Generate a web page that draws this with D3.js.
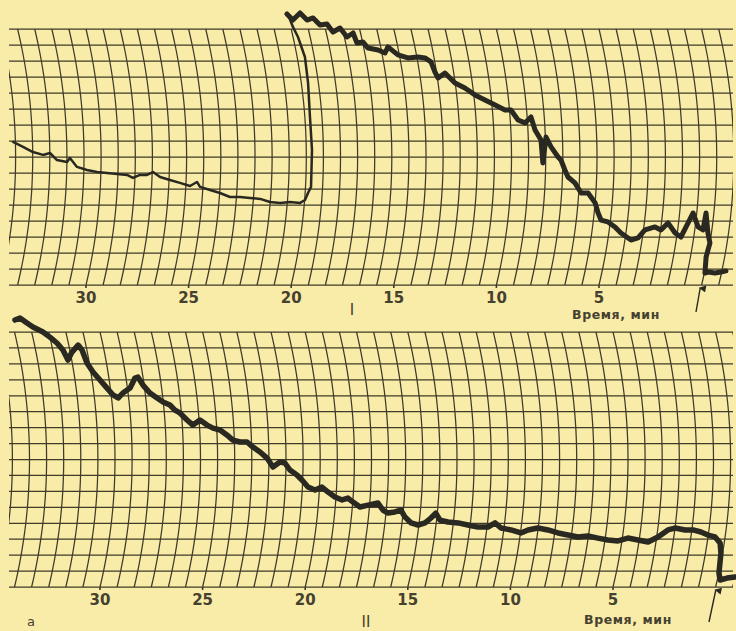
<!DOCTYPE html>
<html>
<head>
<meta charset="utf-8">
<script src="https://cdn.jsdelivr.net/npm/d3@7"></script>
<style>
  body { margin: 0; background: #f9eba8; }
  svg { display: block; }
  .grid line, .grid path { stroke: #3f3a29; stroke-width: 1.25; fill: none; }
  .trace { fill: none; stroke: #2a2921; stroke-linejoin: round; stroke-linecap: round; }
  text { font-family: 'DejaVu Sans', sans-serif; fill: #45412f; }
</style>
</head>
<body>
<svg width="736" height="631"></svg>
<script>
/* globals d3: true */

(function() {
  'use strict';

  // minutes before the arrow, as printed under both strips
  const timeTicks = [30, 25, 20, 15, 10, 5];
  const axisTitle = 'Время, мин';
  const panelNames = ['I', 'II'];

  // strip I, [minutes, chart divisions], slow drift before the jump
  const traceIBase = [
    [34.28, 8.94], [33.80, 8.63], [33.32, 8.31], [32.83, 8.13], [32.49, 8.25],
    [32.15, 7.81], [31.66, 7.69], [31.52, 7.94], [31.17, 7.38], [30.68, 7.19],
    [30.19, 7.06], [29.70, 7.00], [29.21, 6.94], [28.72, 6.88], [28.43, 6.69],
    [28.09, 6.88], [27.75, 6.88], [27.46, 7.06], [27.11, 6.75], [26.62, 6.56],
    [26.13, 6.38], [25.63, 6.19], [25.30, 6.44], [25.14, 6.13], [24.64, 5.94],
    [24.15, 5.75], [23.65, 5.50], [23.16, 5.50], [22.67, 5.44], [22.17, 5.38],
    [21.68, 5.19], [21.18, 5.13], [20.70, 5.19], [20.21, 5.13], [19.98, 5.31],
    [19.86, 5.75], [19.73, 6.13], [19.72, 8.44], [19.75, 10.50], [19.67, 12.63],
    [19.62, 14.25], [19.76, 15.50], [19.89, 16.13], [19.96, 16.75], [20.02, 16.94],
  ];

  // strip I after the jump
  const traceIRun = [
    [20.02, 16.94], [19.81, 16.56], [19.37, 17.00], [19.12, 16.56], [18.80, 16.69],
    [18.55, 16.25], [18.20, 16.31], [18.00, 15.81], [17.61, 16.06], [17.37, 15.50],
    [17.03, 15.75], [16.95, 15.13], [16.65, 15.19], [16.46, 14.81], [15.99, 14.69],
    [15.68, 14.50], [15.48, 14.88], [15.07, 14.38], [14.61, 14.19], [14.11, 14.25],
    [13.78, 14.19], [13.52, 13.94], [13.41, 13.31], [13.30, 12.94], [12.93, 13.25],
    [12.51, 12.63], [12.06, 12.31], [11.61, 11.88], [11.15, 11.56], [10.68, 11.25],
    [10.22, 10.94], [9.93, 10.94], [9.62, 10.31], [9.29, 10.13], [8.98, 10.50],
    [8.82, 9.69], [8.55, 9.06], [8.47, 7.63], [8.30, 9.25], [8.07, 8.63],
    [7.73, 8.00], [7.59, 7.81], [7.39, 7.19], [7.23, 6.75], [6.88, 6.38],
    [6.55, 5.75], [6.21, 5.75], [5.83, 5.13], [5.64, 4.50], [5.46, 4.06],
    [5.11, 3.94], [4.74, 3.63], [4.41, 3.25], [3.87, 2.81], [3.54, 2.94],
    [3.26, 3.44], [2.79, 3.63], [2.48, 3.44], [2.18, 3.88], [1.77, 3.25],
    [1.46, 3.00], [1.20, 3.88], [1.01, 4.50], [0.69, 3.63], [0.43, 3.44],
    [0.38, 4.50], [0.17, 3.25], [0.00, 2.63], [0.07, 1.75], [-0.03, 0.75],
    [-0.17, 0.81], [-0.52, 0.75], [-0.80, 0.81], [-1.03, 0.88],
  ];

  // strip II
  const traceII = [
    [34.00, 16.75], [33.73, 16.88], [33.45, 16.56], [33.21, 16.31], [32.78, 16.00],
    [32.50, 15.68], [32.22, 15.31], [32.00, 14.87], [31.85, 14.24], [31.58, 14.74],
    [31.21, 15.18], [31.07, 14.87], [30.95, 14.05], [30.73, 13.49], [30.45, 12.99],
    [30.16, 12.48], [29.91, 12.05], [29.68, 11.86], [29.42, 12.17], [29.04, 12.48],
    [28.73, 13.11], [28.58, 13.17], [28.39, 12.67], [28.10, 12.17], [27.78, 11.86],
    [27.51, 11.61], [27.19, 11.42], [26.97, 11.10], [26.74, 10.92], [26.42, 10.48],
    [26.15, 10.16], [25.79, 10.48], [25.46, 10.16], [25.18, 9.97], [24.84, 9.85],
    [24.52, 9.54], [24.24, 9.22], [23.89, 9.10], [23.55, 9.10], [23.27, 8.78],
    [22.93, 8.47], [22.59, 8.09], [22.30, 7.53], [21.96, 7.84], [21.72, 7.78],
    [21.47, 7.34], [21.12, 7.03], [20.87, 6.71], [20.56, 6.27], [20.21, 6.09],
    [19.88, 6.27], [19.57, 5.96], [19.22, 5.65], [18.86, 5.46], [18.58, 5.58],
    [18.32, 5.33], [17.96, 5.02], [17.58, 5.14], [17.10, 5.27], [16.83, 4.83],
    [16.57, 4.64], [16.24, 4.71], [15.95, 4.83], [15.72, 4.39], [15.39, 4.02],
    [15.04, 3.89], [14.71, 4.02], [14.45, 4.33], [14.24, 4.64], [14.00, 4.20],
    [13.60, 4.08], [13.10, 4.02], [12.61, 3.89], [12.11, 3.76], [11.62, 3.76],
    [11.30, 4.02], [10.98, 3.70], [10.48, 3.58], [9.98, 3.39], [9.65, 3.58],
    [9.18, 3.70], [8.68, 3.58], [8.17, 3.39], [7.67, 3.26], [7.17, 3.14],
    [6.69, 3.20], [6.19, 3.07], [5.69, 2.95], [5.19, 2.89], [4.73, 3.07],
    [4.23, 2.95], [3.72, 2.82], [3.27, 3.14], [2.83, 3.58], [2.50, 3.70],
    [2.00, 3.58], [1.61, 3.58], [1.21, 3.45], [0.85, 3.26], [0.49, 3.14],
    [0.20, 2.76], [0.08, 2.13], [0.04, 1.51], [-0.01, 0.88], [-0.14, 0.44],
    [-0.46, 0.56], [-0.83, 0.63],
  ];

  const divisions = 16;
  const minPerLine = 5 / 6;
  const pxPerMin = 20.52;
  const radius = 550;
  const left = 9;
  const right = 733;

  const panels = [
    {
      top: 29, bottom: 285, zero: 701.6,
      series: [[traceIBase, 2.5], [traceIRun, 5]],
      nameX: 352, nameY: 315, titleX: 572, titleY: 318.5,
      arrow: [-5.6, 27, -1.4, 3],
    },
    {
      top: 332, bottom: 587, zero: 715.6,
      series: [[traceII, 5.5]],
      nameX: 366, nameY: 627, titleX: 584, titleY: 624,
      arrow: [-6.6, 35, 0.2, 3],
    },
  ];

  const svg = d3.select('svg');

  svg.append('defs')
      .append('marker')
      .attr('id', 'head')
      .attr('viewBox', '0 0 10 10')
      .attr('refX', 5)
      .attr('refY', 2)
      .attr('markerWidth', 5)
      .attr('markerHeight', 6)
      .attr('orient', 'auto-start-reverse')
      .append('path')
      .attr('d', 'M0,10L5,0L10,10Z')
      .attr('fill', '#2a2921');

  panels.forEach((p, i) => {
    const x = d3.scaleLinear()
        .domain([0, 30])
        .range([p.zero, p.zero - 30 * pxPerMin]);
    const y = d3.scaleLinear()
        .domain([0, divisions])
        .range([p.bottom, p.top]);

    // the pen swings on an arm, so a constant time is an arc
    const mid = (p.top + p.bottom) / 2;
    const half = (p.bottom - p.top) / 2;
    const base = Math.sqrt(radius * radius - half * half);
    const bend = (py) => {
      return Math.sqrt(radius * radius - (py - mid) * (py - mid)) - base;
    };

    const line = d3.line()
        .x((d) => {
          return x(d[0]) + bend(y(d[1]));
        })
        .y((d) => {
          return y(d[1]);
        });

    const g = svg.append('g');

    g.append('clipPath')
        .attr('id', 'clip' + i)
        .append('rect')
        .attr('x', left)
        .attr('y', p.top - 1)
        .attr('width', right - left)
        .attr('height', p.bottom - p.top + 2);

    const grid = g.append('g')
        .attr('class', 'grid')
        .attr('clip-path', 'url(#clip' + i + ')');

    grid.selectAll('line')
        .data(d3.range(0, divisions + 1))
        .join('line')
        .attr('x1', left)
        .attr('x2', right)
        .attr('y1', y)
        .attr('y2', y);

    const steps = d3.range(0, divisions + 0.01, 0.25);
    const arcTimes = d3.range(-4, 46).map((k) => k * minPerLine);
    grid.selectAll('path')
        .data(arcTimes)
        .join('path')
        .attr('d', (t) => line(steps.map((v) => [t, v])));

    // time axis
    g.selectAll('.tick')
        .data(timeTicks)
        .join('line')
        .attr('class', 'tick')
        .attr('x1', x)
        .attr('x2', x)
        .attr('y1', p.bottom)
        .attr('y2', p.bottom + 3)
        .attr('stroke', '#3f3a29')
        .attr('stroke-width', 1.6);

    g.selectAll('.tlabel')
        .data(timeTicks)
        .join('text')
        .attr('class', 'tlabel')
        .attr('x', x)
        .attr('y', p.bottom + 17.5)
        .attr('text-anchor', 'middle')
        .attr('font-size', 15)
        .attr('font-weight', 'bold')
        .text((d) => d);

    g.append('text')
        .attr('x', p.titleX)
        .attr('y', p.titleY)
        .attr('font-size', 12.5)
        .attr('font-weight', 'bold')
        .attr('letter-spacing', 0.6)
        .text(axisTitle);

    g.append('text')
        .attr('x', p.nameX)
        .attr('y', p.nameY)
        .attr('text-anchor', 'middle')
        .attr('font-size', 15)
        .attr('font-family', 'Liberation Sans, sans-serif')
        .text(panelNames[i]);

    g.append('line')
        .attr('x1', x(0) + p.arrow[0])
        .attr('y1', p.bottom + p.arrow[1])
        .attr('x2', x(0) + p.arrow[2])
        .attr('y2', p.bottom + p.arrow[3])
        .attr('stroke', '#2a2921')
        .attr('stroke-width', 1.4)
        .attr('marker-end', 'url(#head)');

    p.series.forEach((s) => {
      g.append('path')
          .datum(s[0])
          .attr('class', 'trace')
          .attr('stroke-width', s[1])
          .attr('d', line);
    });
  });

  svg.append('text')
      .attr('x', 31)
      .attr('y', 626)
      .attr('text-anchor', 'middle')
      .attr('font-size', 13)
      .text('a');
})();
</script>
</body>
</html>
